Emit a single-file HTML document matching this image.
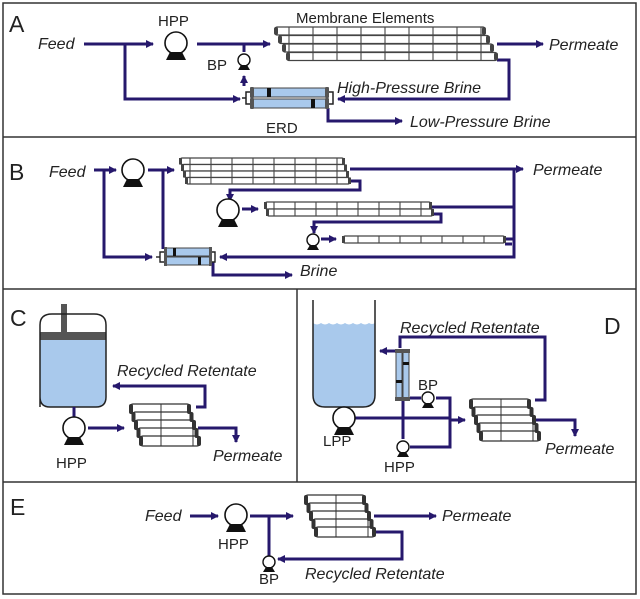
<!DOCTYPE html>
<html><head><meta charset="utf-8"><style>
html,body{margin:0;padding:0;background:#fff;}
svg{display:block;}
text{font-family:"Liberation Sans",sans-serif;fill:#222;}
.i{font-style:italic;font-size:16px;}
.n{font-size:15px;}
.L{font-size:23px;}
.p{fill:none;stroke:#26186c;stroke-width:3;}
</style></head><body>
<svg width="640" height="599" viewBox="0 0 640 599" xmlns="http://www.w3.org/2000/svg">
<defs>
<marker id="ar" markerWidth="10" markerHeight="10" refX="7" refY="5" orient="auto" markerUnits="userSpaceOnUse">
<path d="M0,1 L8,5 L0,9 Z" fill="#26186c"/></marker>
<pattern id="c24" width="24" height="20" patternUnits="userSpaceOnUse">
<rect width="24" height="20" fill="#fff"/><rect x="0" y="0" width="2" height="20" fill="#999"/></pattern>
<pattern id="c20" width="21" height="20" patternUnits="userSpaceOnUse">
<rect width="21" height="20" fill="#fff"/><rect x="0" y="0" width="2" height="20" fill="#999"/></pattern>
<pattern id="c32" width="32" height="20" patternUnits="userSpaceOnUse">
<rect width="32" height="20" fill="#fff"/><rect x="0" y="0" width="2" height="20" fill="#999"/></pattern>
<g id="pumpL"><circle cx="0" cy="0" r="11" fill="#fff" stroke="#111" stroke-width="1.6"/><path d="M-6,9 L6,9 L10,17 L-10,17 Z" fill="#111"/></g>
<g id="pumpS"><circle cx="0" cy="0" r="6" fill="#fff" stroke="#111" stroke-width="1.4"/><path d="M-3,5 L3,5 L6,10 L-6,10 Z" fill="#111"/></g>
</defs>
<rect x="0" y="0" width="640" height="599" fill="#fff"/>
<g fill="none" stroke="#333" stroke-width="1.5">
<rect x="3" y="3" width="633" height="591"/>
<line x1="3" y1="137" x2="636" y2="137"/>
<line x1="3" y1="289" x2="636" y2="289"/>
<line x1="3" y1="482" x2="636" y2="482"/>
<line x1="297" y1="289" x2="297" y2="482"/>
</g>

<!-- ===== A ===== -->
<text x="9" y="32" class="L">A</text>
<text x="38" y="49" class="i">Feed</text>
<text x="158" y="26" class="n">HPP</text>
<text x="296" y="23" class="n">Membrane Elements</text>
<text x="207" y="70" class="n">BP</text>
<text x="266" y="133" class="n">ERD</text>
<text x="549" y="50" class="i">Permeate</text>
<text x="337" y="93" class="i">High-Pressure Brine</text>
<text x="410" y="127" class="i">Low-Pressure Brine</text>
<path class="p" d="M84,44 L153,44" marker-end="url(#ar)"/>
<path class="p" d="M197,44 L270,44" marker-end="url(#ar)"/>
<path class="p" d="M244,44 L244,52"/>
<path class="p" d="M125,44 L125,99 L240,99" marker-end="url(#ar)"/>
<path class="p" d="M244,86 L244,76" marker-end="url(#ar)"/>
<path class="p" d="M497,44 L543,44" marker-end="url(#ar)"/>
<path class="p" d="M497,60 L509,60 L509,99 L338,99" marker-end="url(#ar)"/>
<path class="p" d="M328,108 L328,121 L402,121" marker-end="url(#ar)"/>
<use href="#pumpL" x="176" y="43"/>
<use href="#pumpS" x="244" y="60"/>
<g stroke="#444" stroke-width="1.2">
<rect x="275" y="27" width="210" height="8" rx="2" fill="url(#c24)"/>
<rect x="279" y="35.5" width="210" height="8" rx="2" fill="url(#c24)"/>
<rect x="283" y="44" width="210" height="8" rx="2" fill="url(#c24)"/>
<rect x="287" y="52.5" width="210" height="8" rx="2" fill="url(#c24)"/>
</g>
<g fill="#444">
<rect x="274" y="27" width="4" height="8" rx="2"/><rect x="482" y="27" width="4" height="8" rx="2"/>
<rect x="278" y="35.5" width="4" height="8" rx="2"/><rect x="486" y="35.5" width="4" height="8" rx="2"/>
<rect x="282" y="44" width="4" height="8" rx="2"/><rect x="490" y="44" width="4" height="8" rx="2"/>
<rect x="286" y="52.5" width="4" height="8" rx="2"/><rect x="494" y="52.5" width="4" height="8" rx="2"/>
</g>
<g stroke="#222" stroke-width="1.5" fill="none">
<path d="M252,92 L246,92 L246,104 L252,104"/><path d="M246,98 L242,98"/>
<path d="M327,92 L333,92 L333,104 L327,104"/>
</g>
<g stroke="#444" stroke-width="1">
<rect x="252" y="88" width="75" height="9" fill="#a9c9ec"/>
<rect x="252" y="99" width="75" height="9" fill="#a9c9ec"/>
</g>
<g fill="#555"><rect x="250" y="87" width="4" height="11" rx="1"/><rect x="325" y="87" width="4" height="11" rx="1"/>
<rect x="250" y="98" width="4" height="11" rx="1"/><rect x="325" y="98" width="4" height="11" rx="1"/></g>
<rect x="267" y="88" width="4" height="9" fill="#111"/><rect x="311" y="99" width="4" height="9" fill="#111"/>

<!-- ===== B ===== -->
<text x="9" y="180" class="L">B</text>
<text x="49" y="177" class="i">Feed</text>
<text x="533" y="175" class="i">Permeate</text>
<text x="300" y="276" class="i">Brine</text>
<path class="p" d="M94,170 L116,170" marker-end="url(#ar)"/>
<path class="p" d="M104,170 L104,257 L152,257" marker-end="url(#ar)"/>
<path class="p" d="M148,170 L174,170" marker-end="url(#ar)"/>
<path class="p" d="M163,170 L163,249"/>
<path class="p" d="M350,169 L523,169" marker-end="url(#ar)"/>
<path class="p" d="M514,169 L514,257 L220,257" marker-end="url(#ar)"/>
<path class="p" d="M350,181 L360,181 L360,190 L230,190 L230,201" marker-end="url(#ar)"/>
<path class="p" d="M242,209 L258,209" marker-end="url(#ar)"/>
<path class="p" d="M432,207 L514,207"/>
<path class="p" d="M432,214 L441,214 L441,222 L314,222 L314,233" marker-end="url(#ar)"/>
<path class="p" d="M321,239 L336,239" marker-end="url(#ar)"/>
<path class="p" d="M505,239 L514,239"/>
<path class="p" d="M505,244 L512,244"/>
<path class="p" d="M213,262 L213,275 L292,275" marker-end="url(#ar)"/>
<use href="#pumpL" x="133" y="170"/>
<use href="#pumpL" x="228" y="210"/>
<use href="#pumpS" x="313" y="240"/>
<g stroke="#444" stroke-width="1.2">
<rect x="180" y="158" width="164" height="6.5" rx="2" fill="url(#c20)"/>
<rect x="182" y="164.5" width="164" height="6.5" rx="2" fill="url(#c20)"/>
<rect x="184" y="171" width="164" height="6.5" rx="2" fill="url(#c20)"/>
<rect x="186" y="177.5" width="164" height="6.5" rx="2" fill="url(#c20)"/>
<rect x="265" y="202" width="166" height="7" rx="2" fill="url(#c20)"/>
<rect x="267" y="209" width="166" height="7" rx="2" fill="url(#c20)"/>
<rect x="343" y="236" width="162" height="7" rx="2" fill="url(#c20)"/>
</g>
<g fill="#444">
<rect x="179" y="158" width="3" height="6.5"/><rect x="342" y="158" width="3" height="6.5"/>
<rect x="181" y="164.5" width="3" height="6.5"/><rect x="344" y="164.5" width="3" height="6.5"/>
<rect x="183" y="171" width="3" height="6.5"/><rect x="346" y="171" width="3" height="6.5"/>
<rect x="185" y="177.5" width="3" height="6.5"/><rect x="348" y="177.5" width="3" height="6.5"/>
<rect x="264" y="202" width="3" height="7"/><rect x="429" y="202" width="3" height="7"/>
<rect x="266" y="209" width="3" height="7"/><rect x="431" y="209" width="3" height="7"/>
<rect x="342" y="236" width="3" height="7"/><rect x="503" y="236" width="3" height="7"/>
</g>
<g stroke="#222" stroke-width="1.4" fill="none">
<path d="M166,252 L160,252 L160,262 L166,262"/><path d="M160,257 L156,257"/>
<path d="M210,252 L215,252 L215,262 L210,262"/>
</g>
<g stroke="#444" stroke-width="1">
<rect x="166" y="248" width="44" height="8" fill="#a9c9ec"/>
<rect x="166" y="257" width="44" height="8" fill="#a9c9ec"/>
</g>
<g fill="#555"><rect x="164" y="247" width="3" height="19"/><rect x="209" y="247" width="3" height="19"/></g>
<rect x="173" y="248" width="3" height="8" fill="#111"/><rect x="198" y="257" width="3" height="8" fill="#111"/>

<!-- ===== C ===== -->
<text x="10" y="326" class="L">C</text>
<path d="M40,340 L40,397 Q40,407 50,407 L96,407 Q106,407 106,397 L106,340 Z" fill="#a9c9ec"/>
<rect x="40" y="332" width="66" height="8" fill="#555"/>
<rect x="61" y="304" width="6" height="28" fill="#555"/>
<path d="M40,407 L40,325 Q40,314 52,314 L94,314 Q106,314 106,325 L106,397 Q106,407 96,407 L50,407 Q40,407 40,397 Z" fill="none" stroke="#222" stroke-width="1.5"/>
<text x="117" y="376" class="i">Recycled Retentate</text>
<text x="213" y="461" class="i">Permeate</text>
<text x="56" y="468" class="n">HPP</text>
<path class="p" d="M74,407 L74,419"/>
<path class="p" d="M88,428 L124,428" marker-end="url(#ar)"/>
<path class="p" d="M196,407 L205,407 L205,386 L113,386" marker-end="url(#ar)"/>
<path class="p" d="M198,428 L236,428 L236,442" marker-end="url(#ar)"/>
<use href="#pumpL" x="74" y="428"/>
<g id="stk">
<g stroke="#333" stroke-width="1.3">
<rect x="130" y="404" width="60" height="10" rx="3" fill="url(#c32)"/>
<rect x="132.5" y="412" width="60" height="10" rx="3" fill="url(#c32)"/>
<rect x="135" y="420" width="60" height="10" rx="3" fill="url(#c32)"/>
<rect x="137.5" y="428" width="60" height="10" rx="3" fill="url(#c32)"/>
<rect x="140" y="436" width="60" height="10" rx="3" fill="url(#c32)"/>
</g>
<g fill="#333">
<rect x="129" y="404" width="4" height="10" rx="2"/><rect x="187" y="404" width="4" height="10" rx="2"/>
<rect x="131.5" y="412" width="4" height="10" rx="2"/><rect x="189.5" y="412" width="4" height="10" rx="2"/>
<rect x="134" y="420" width="4" height="10" rx="2"/><rect x="192" y="420" width="4" height="10" rx="2"/>
<rect x="136.5" y="428" width="4" height="10" rx="2"/><rect x="194.5" y="428" width="4" height="10" rx="2"/>
<rect x="139" y="436" width="4" height="10" rx="2"/><rect x="197" y="436" width="4" height="10" rx="2"/>
</g>
</g>

<!-- ===== D ===== -->
<text x="604" y="334" class="L">D</text>
<path d="M313,323 Q317,326 321,323 Q325,326 329,323 Q333,326 337,323 Q341,326 345,323 Q349,326 353,323 Q357,326 361,323 Q365,326 369,323 Q372,325 375,323 L375,395 Q375,407 363,407 L325,407 Q313,407 313,395 Z" fill="#a9c9ec"/>
<path d="M313,300 L313,395 Q313,407 325,407 L363,407 Q375,407 375,395 L375,300" fill="none" stroke="#222" stroke-width="1.5"/>
<text x="400" y="333" class="i">Recycled Retentate</text>
<text x="418" y="390" class="n">BP</text>
<text x="323" y="446" class="n">LPP</text>
<text x="384" y="472" class="n">HPP</text>
<text x="545" y="454" class="i">Permeate</text>
<path class="p" d="M344,407 L344,410"/>
<path class="p" d="M354,418 L450,418"/>
<path class="p" d="M403,400 L403,439"/>
<path class="p" d="M410,447 L450,447 L450,398 L436,398"/>
<path class="p" d="M410,398 L421,398"/>
<path class="p" d="M450,420 L465,420" marker-end="url(#ar)"/>
<path class="p" d="M535,400 L545,400 L545,337 L400,337 L400,348"/>
<path class="p" d="M395,351 L380,351" marker-end="url(#ar)"/>
<path class="p" d="M535,420 L575,420 L575,436" marker-end="url(#ar)"/>
<use href="#pumpL" x="344" y="418"/>
<use href="#pumpS" x="403" y="447"/>
<use href="#pumpS" x="428" y="398"/>
<g stroke="#444" stroke-width="1">
<rect x="396" y="352" width="6" height="46" fill="#a9c9ec"/>
<rect x="403" y="352" width="6" height="46" fill="#a9c9ec"/>
</g>
<g fill="#555"><rect x="395" y="349" width="15" height="4"/><rect x="395" y="397" width="15" height="4"/></g>
<rect x="396" y="380" width="6" height="3" fill="#111"/><rect x="403" y="362" width="6" height="3" fill="#111"/>
<use href="#stk" x="340" y="-5"/>

<!-- ===== E ===== -->
<text x="10" y="515" class="L">E</text>
<text x="145" y="521" class="i">Feed</text>
<text x="218" y="549" class="n">HPP</text>
<text x="259" y="584" class="n">BP</text>
<text x="442" y="521" class="i">Permeate</text>
<text x="305" y="579" class="i">Recycled Retentate</text>
<path class="p" d="M190,516 L218,516" marker-end="url(#ar)"/>
<path class="p" d="M250,516 L293,516" marker-end="url(#ar)"/>
<path class="p" d="M269,516 L269,556"/>
<path class="p" d="M374,516 L436,516" marker-end="url(#ar)"/>
<path class="p" d="M374,532 L402,532 L402,559 L278,559" marker-end="url(#ar)"/>
<use href="#pumpL" x="236" y="515"/>
<use href="#pumpS" x="269" y="562"/>
<use href="#stk" x="175" y="91"/>
</svg>
</body></html>
